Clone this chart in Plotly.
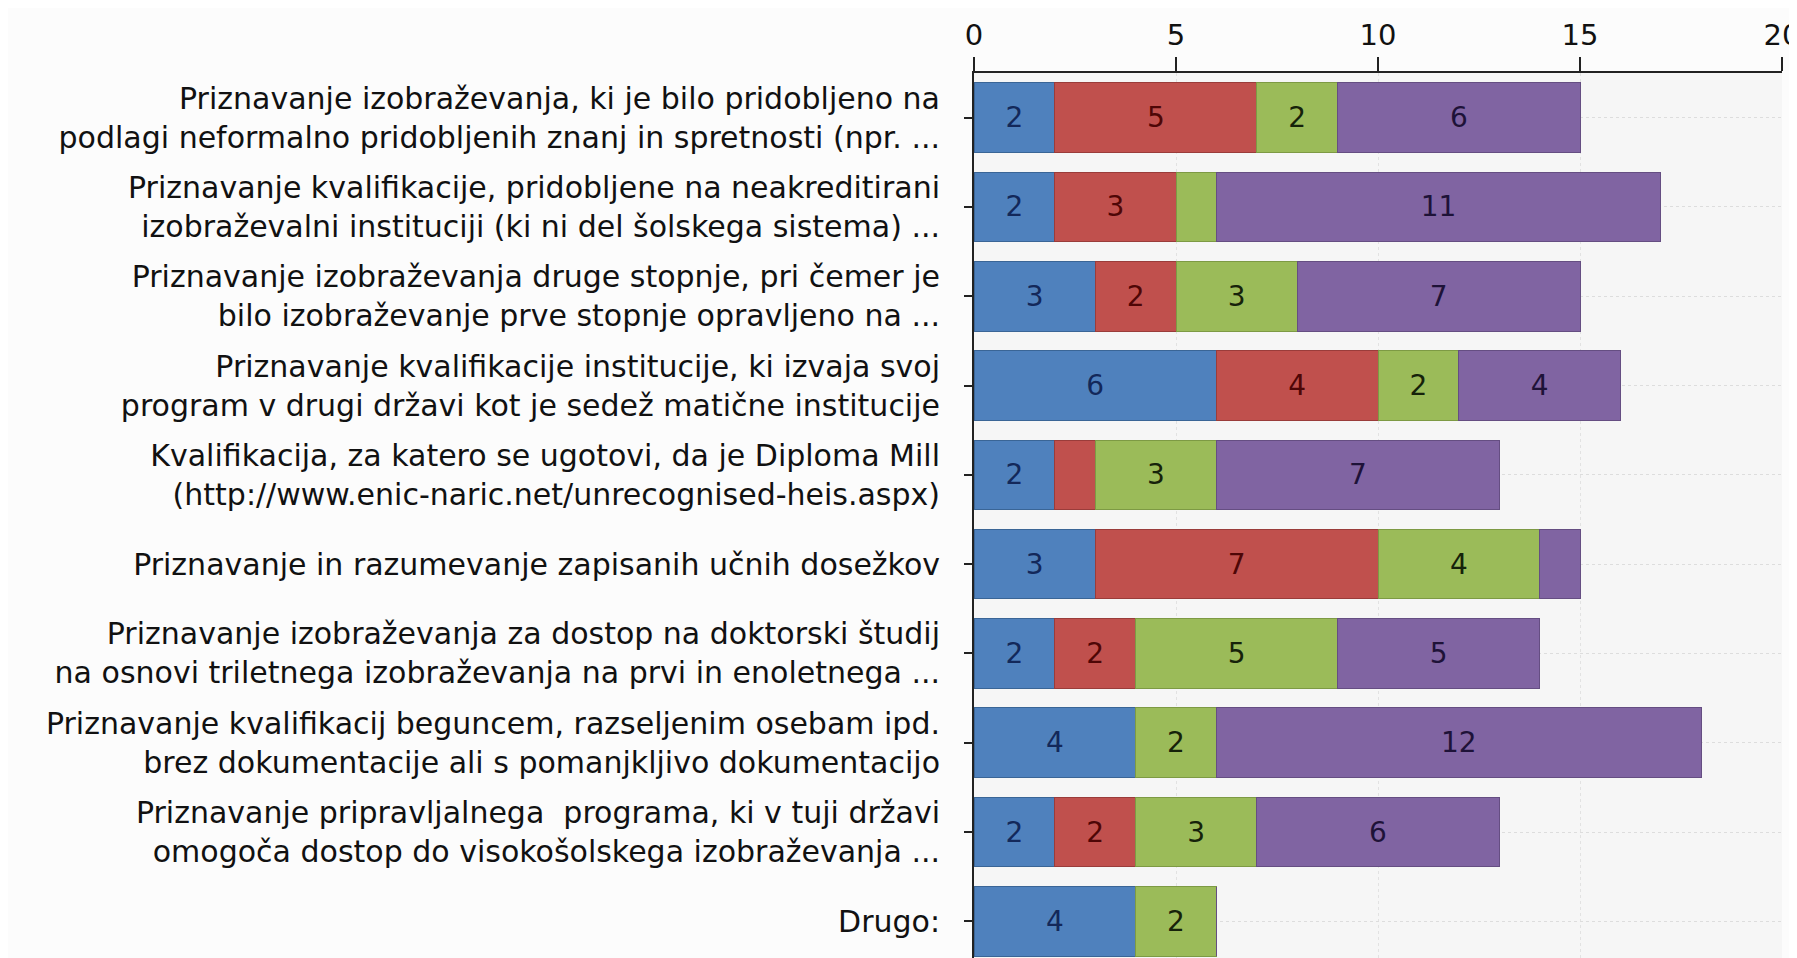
import plotly.graph_objects as go

categories = [
    "Priznavanje izobraževanja, ki je bilo pridobljeno na<br>podlagi neformalno pridobljenih znanj in spretnosti (npr. ...",
    "Priznavanje kvalifikacije, pridobljene na neakreditirani<br>izobraževalni instituciji (ki ni del šolskega sistema) ...",
    "Priznavanje izobraževanja druge stopnje, pri čemer je<br>bilo izobraževanje prve stopnje opravljeno na ...",
    "Priznavanje kvalifikacije institucije, ki izvaja svoj<br>program v drugi državi kot je sedež matične institucije",
    "Kvalifikacija, za katero se ugotovi, da je Diploma Mill<br>(http://www.enic-naric.net/unrecognised-heis.aspx)",
    "Priznavanje in razumevanje zapisanih učnih dosežkov",
    "Priznavanje izobraževanja za dostop na doktorski študij<br>na osnovi triletnega izobraževanja na prvi in enoletnega ...",
    "Priznavanje kvalifikacij beguncem, razseljenim osebam ipd.<br>brez dokumentacije ali s pomanjkljivo dokumentacijo",
    "Priznavanje pripravljalnega  programa, ki v tuji državi<br>omogoča dostop do visokošolskega izobraževanja ...",
    "Drugo:",
]

series_blue = [2, 2, 3, 6, 2, 3, 2, 4, 2, 4]
series_red = [5, 3, 2, 4, 1, 7, 2, 0, 2, 0]
series_green = [2, 1, 3, 2, 3, 4, 5, 2, 3, 2]
series_purple = [6, 11, 7, 4, 7, 1, 5, 12, 6, 0]

x_ticks = [0, 5, 10, 15, 20]

series = [
    ("1", series_blue, "#4F81BD", "#3A6596", "#13285A"),
    ("2", series_red, "#C0504D", "#9A3C3A", "#4E0606"),
    ("3", series_green, "#9BBB59", "#7D9A44", "#16220A"),
    ("4", series_purple, "#8064A2", "#654E82", "#1E1238"),
]

font_family = "DejaVu Sans"

fig = go.Figure()
for name, vals, color, edge, tcolor in series:
    labels = [str(v) if v > 1 else "" for v in vals]
    fig.add_trace(go.Bar(
        name=name,
        y=categories,
        x=vals,
        orientation="h",
        marker=dict(color=color, line=dict(color=edge, width=1)),
        text=labels,
        textposition="inside",
        insidetextanchor="middle",
        textangle=0,
        textfont=dict(family=font_family, size=28, color=tcolor),
        hoverinfo="x+y",
    ))

fig.update_layout(
    barmode="stack",
    bargap=0.22,
    width=1797,
    height=958,
    showlegend=False,
    paper_bgcolor="#fcfcfc",
    plot_bgcolor="#f6f6f6",
    margin=dict(l=966, r=23, t=65, b=0),
    font=dict(family=font_family, size=30, color="#111111"),
    uniformtext=dict(minsize=10, mode="show"),
)

fig.update_xaxes(
    side="top",
    range=[0, 20],
    tickvals=x_ticks,
    ticks="outside",
    ticklen=14,
    tickwidth=2,
    tickcolor="#222222",
    showline=True,
    linecolor="#222222",
    linewidth=2,
    showgrid=True,
    gridcolor="#e2e2e2",
    griddash="dot",
    gridwidth=1,
    zeroline=False,
    tickfont=dict(family=font_family, size=29, color="#111111"),
)

fig.update_yaxes(
    autorange="reversed",
    ticks="outside",
    ticklen=8,
    tickwidth=2,
    tickcolor="#222222",
    showline=True,
    linecolor="#222222",
    linewidth=2,
    showgrid=True,
    gridcolor="#dddddd",
    griddash="dot",
    gridwidth=1,
    ticklabelstandoff=18,
    tickfont=dict(family=font_family, size=30, color="#111111"),
)

fig.write_html("out.html")
